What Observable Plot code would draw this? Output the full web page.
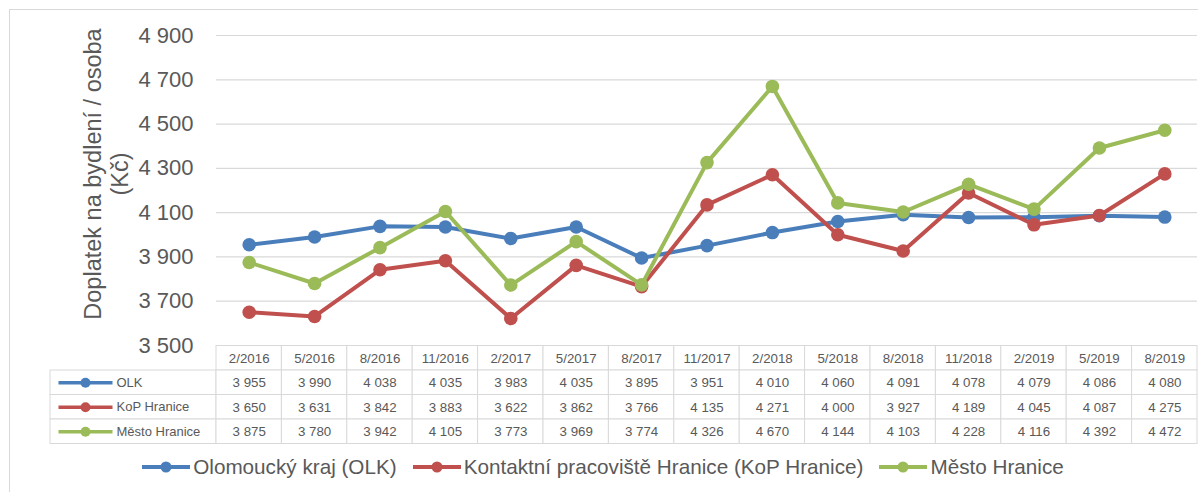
<!DOCTYPE html>
<html><head><meta charset="utf-8">
<script src="https://cdn.jsdelivr.net/npm/d3@7"></script>
<script src="https://cdn.jsdelivr.net/npm/@observablehq/plot@0.6"></script>
<style>
html,body{margin:0;padding:0;background:#fff;overflow:hidden;width:1198px;height:492px;}
body{position:relative;font-family:"Liberation Sans",Arial,sans-serif;}
#frame{position:absolute;left:9px;top:9px;width:1300px;height:600px;border:1.5px solid #d9d9d9;box-sizing:border-box;}
#chart{position:absolute;left:0;top:0;}
#table{position:absolute;left:0;top:344.5px;}
#legend{position:absolute;left:0;top:455px;width:1206px;height:24px;display:flex;justify-content:center;align-items:center;font-size:20.7px;color:#595959;}
.item{display:flex;align-items:center;margin-left:16px;white-space:nowrap}
.item:first-child{margin-left:0}
.item svg{margin-right:3px}
</style></head><body>
<div id="frame"></div><div id="chart"></div><div id="table"></div><div id="legend"></div>
<script>
// ---- data ----
const dates = ["2/2016","5/2016","8/2016","11/2016","2/2017","5/2017","8/2017","11/2017","2/2018","5/2018","8/2018","11/2018","2/2019","5/2019","8/2019"];
const olk   = [3955,3990,4038,4035,3983,4035,3895,3951,4010,4060,4091,4078,4079,4086,4080];
const kop   = [3650,3631,3842,3883,3622,3862,3766,4135,4271,4000,3927,4189,4045,4087,4275];
const mesto = [3875,3780,3942,4105,3773,3969,3774,4326,4670,4144,4103,4228,4116,4392,4472];
const seriesNames = ["Olomoucký kraj (OLK)","Kontaktní pracoviště Hranice (KoP Hranice)","Město Hranice"];
const tableLabels = ["OLK","KoP Hranice","Město Hranice"];
const seriesColors = ["#4A7EBB","#C0504D","#9BBB59"];
const yTicks = [3500,3700,3900,4100,4300,4500,4700,4900];
const yTitle = "Doplatek na bydlení / osoba\n(Kč)";

// ---- build ----
const fmt = d3.formatLocale({decimal:",", thousands:" ", grouping:[3], currency:["","Kč"]}).format(",");
const seriesValues = [olk, kop, mesto];
const keys = tableLabels;
const rows = keys.flatMap((k, si) => dates.map((d, i) => ({date: d, value: seriesValues[si][i], series: k})));

const W = 1198, ML = 216, MR = 1;
const font = "'Liberation Sans', Arial, sans-serif";

const chart = Plot.plot({
  width: W, height: 345, marginTop: 35, marginBottom: 0, marginLeft: ML, marginRight: MR,
  style: {fontFamily: font, fontSize: "22px", color: "#595959", background: "transparent", overflow: "visible"},
  x: {type: "band", domain: dates, padding: 0, round: false, axis: null},
  y: {domain: [3500, 4900], ticks: yTicks, tickFormat: fmt, tickSize: 0, tickPadding: 23, label: null},
  color: {domain: keys, range: seriesColors},
  marks: [
    Plot.ruleY(yTicks.slice(1), {stroke: "#d9d9d9", strokeWidth: 1.2}),
    Plot.text([yTitle], {text: d => d, frameAnchor: "left", textAnchor: "middle", rotate: -90,
      dx: -111, dy: -16.5, fontSize: 23.5, lineHeight: 1.17, fill: "#595959"}),
    ...keys.flatMap(k => [
      Plot.line(rows.filter(r => r.series === k), {x: "date", y: "value", stroke: "series", strokeWidth: 4, strokeLinejoin: "round"}),
      Plot.dot(rows.filter(r => r.series === k), {x: "date", y: "value", fill: "series", r: 6.8})
    ])
  ]
});
document.getElementById("chart").appendChild(chart);

// ---- data table ----
const tableRows = ["hdr", ...keys];
const cells = [
  ...dates.map(d => ({date: d, row: "hdr", text: d})),
  ...rows.map(r => ({date: r.date, row: r.series, text: fmt(r.value)}))
];
const labelData = keys.map(k => ({row: k, series: k, label: k}));
const bw = (W - ML - MR) / dates.length;
const swatchLine = {draw(ctx) { ctx.rect(-27, -1.75, 54, 3.5); }};

const table = Plot.plot({
  width: W, height: 99, marginTop: 0.5, marginBottom: 0.5, marginLeft: ML, marginRight: MR,
  style: {fontFamily: font, fontSize: "13px", color: "#595959", background: "transparent", overflow: "visible"},
  x: {type: "band", domain: dates, padding: 0, round: false, axis: null},
  y: {type: "band", domain: tableRows, padding: 0, round: false, axis: null},
  color: {domain: keys, range: seriesColors},
  marks: [
    Plot.cell(labelData, {x: () => dates[0], y: "row", insetLeft: -166, insetRight: bw, fill: "white", stroke: "#d9d9d9", strokeWidth: 1}),
    Plot.cell(cells, {x: "date", y: "row", fill: "white", stroke: "#d9d9d9", strokeWidth: 1}),
    Plot.text(cells, {x: "date", y: "row", text: "text", fill: "#595959", fontSize: 13.3}),
    Plot.dot(labelData, {y: "row", frameAnchor: "left", dx: -131, symbol: swatchLine, fill: "series", r: 5}),
    Plot.dot(labelData, {y: "row", frameAnchor: "left", dx: -131, fill: "series", r: 5}),
    Plot.text(labelData, {y: "row", text: "label", frameAnchor: "left", textAnchor: "start", dx: -100, fill: "#595959", fontSize: 13, letterSpacing: 0.4})
  ]
});
document.getElementById("table").appendChild(table);

// ---- legend ----
const legend = d3.select("#legend");
seriesNames.forEach((name, i) => {
  const item = legend.append("div").attr("class", "item");
  const s = item.append("svg").attr("width", 48).attr("height", 14);
  s.append("line").attr("x1", 0).attr("x2", 48).attr("y1", 7).attr("y2", 7)
    .attr("stroke", seriesColors[i]).attr("stroke-width", 4);
  s.append("circle").attr("cx", 24).attr("cy", 7).attr("r", 5.5).attr("fill", seriesColors[i]);
  item.append("span").text(name);
});
</script>
</body></html>
